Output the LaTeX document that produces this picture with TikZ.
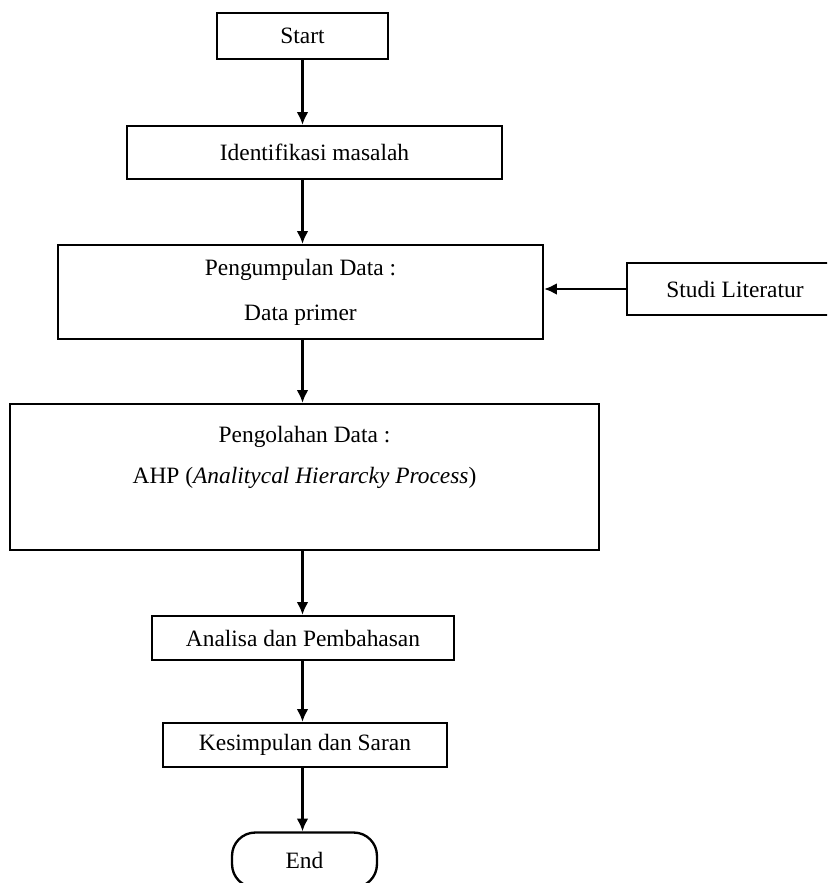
\documentclass[tikz,border=0pt]{standalone}
\usepackage{fontspec}
\setmainfont{Liberation Serif}
\usetikzlibrary{arrows.meta}
\begin{document}
\begin{tikzpicture}[x=0.018cm, y=-0.018cm, font=\fontsize{12}{14}\selectfont,
        box/.style={draw, line width=1.2pt, rectangle, inner sep=0pt, align=center},
        flow/.style={-{Latex[length=6.5pt, width=6pt]}, line width=1.2pt}]
        \clip (0, 0) rectangle (827, 883);
        \node[box, minimum width=3.078cm, minimum height=0.828cm] (start) at (302.5, 36) {Start};
        \node[box, minimum width=6.75cm, minimum height=0.954cm] (ident) at (314.5, 152.5) {Identifikasi masalah};
        \node[box, minimum width=8.73cm, minimum height=1.692cm] (kumpul) at (300.5, 292) {Pengumpulan Data :\\[9pt] Data primer};
        \node[box, minimum width=3.888cm, minimum height=0.936cm] (studi) at (735, 289) {Studi Literatur};
        \node[box, minimum width=10.6cm, minimum height=2.628cm] (olah) at (304.5, 477) {};
        \node[align=center, anchor=north] (olahtext) at (304.5, 419) {Pengolahan Data :\\[7pt] AHP (\textit{Analitycal Hierarcky Process})};
        \node[box, minimum width=5.436cm, minimum height=0.792cm] (analisa) at (303, 638) {Analisa dan Pembahasan};
        \node[box, minimum width=5.112cm, minimum height=0.792cm] (simpul) at (305, 745) {Kesimpulan dan Saran};
        \node[box, rounded corners=0.42cm, minimum width=2.61cm, minimum height=0.99cm] (end) at (304.5, 860) {End};
        \draw[flow] (start.south) -- (start.south |- ident.north);
        \draw[flow] (start.south |- ident.south) -- (start.south |- kumpul.north);
        \draw[flow] (start.south |- kumpul.south) -- (start.south |- olah.north);
        \draw[flow] (start.south |- olah.south) -- (start.south |- analisa.north);
        \draw[flow] (start.south |- analisa.south) -- (start.south |- simpul.north);
        \draw[flow] (start.south |- simpul.south) -- (start.south |- end.north);
        \draw[flow] (studi.west) -- (studi.west -| kumpul.east);
    \end{tikzpicture}
\end{document}
